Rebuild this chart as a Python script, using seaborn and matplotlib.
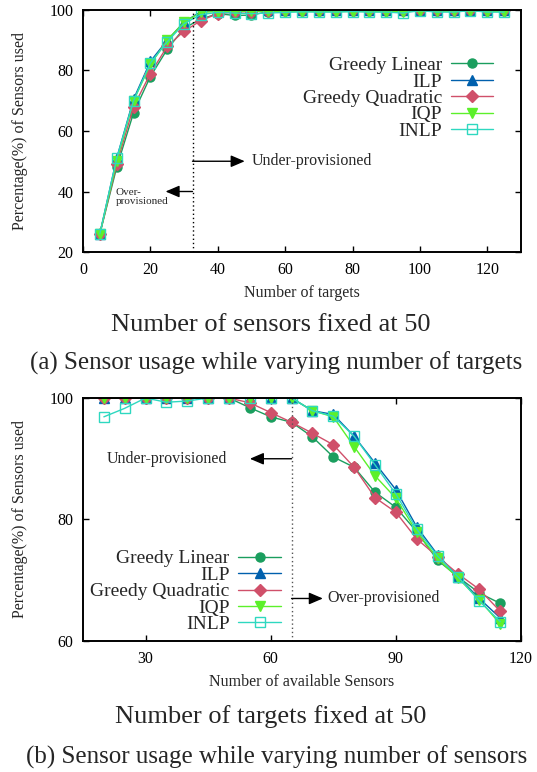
import numpy as np
import pandas as pd
import matplotlib
matplotlib.use("Agg")
import matplotlib.pyplot as plt
import seaborn as sns

sns.set_theme(style="ticks")
plt.rcParams["font.family"] = ["Liberation Serif", "DejaVu Serif"]
plt.rcParams["mathtext.fontset"] = "stix"

# ---- (a) number of sensors fixed at 50, varying number of targets ----
targets = [5, 10, 15, 20, 25, 30, 35, 40, 45, 50, 55, 60, 65, 70, 75,
           80, 85, 90, 95, 100, 105, 110, 115, 120, 125]
a_greedy_linear = [26, 48, 66, 78, 87, 94, 97, 98.8, 98.2, 98.3, 99.5, 99.6, 99.6, 99.7, 99.7,
                   99.7, 99.7, 99.7, 99.8, 99.8, 99.8, 99.8, 99.8, 99.8, 99.8]
a_ilp = [26, 51, 70.5, 83, 90, 96, 99.5, 99.8, 100, 100, 100, 100, 100, 100, 100,
         100, 100, 100, 100, 100, 100, 100, 100, 100, 100]
a_greedy_quad = [26, 49, 68, 79, 88, 93, 96.5, 98.8, 99.3, 99.5, 99.7, 100, 100, 100, 100,
                 100, 100, 100, 100, 100, 100, 100, 100, 100, 100]
a_iqp = [26, 50, 70, 82, 90, 96, 99.2, 99.5, 99.6, 99.6, 99.6, 99.5, 99.5, 99.5, 99.5,
         99.5, 99.5, 99.5, 99.5, 99.8, 99.6, 99.6, 99.8, 99.5, 99.5]
a_inlp = [26, 51, 70, 82.5, 89.5, 95.5, 98.5, 99.2, 99.0, 98.8, 99.0, 99.2, 99.4, 99.3, 99.3,
          99.5, 99.3, 99.3, 99.0, 99.8, 99.3, 99.3, 99.8, 99.3, 99.3]

# ---- (b) number of targets fixed at 50, varying number of sensors ----
sensors = [20, 25, 30, 35, 40, 45, 50, 55, 60, 65, 70, 75, 80, 85, 90, 95, 100, 105, 110, 115]
b_greedy_linear = [100, 100, 100, 100, 100, 100, 100, 98.4, 96.9, 96.0, 93.6, 90.3, 88.6,
                   84.5, 82.0, 78.0, 73.3, 70.5, 67.9, 66.2]
b_ilp = [100, 100, 100, 100, 100, 100, 100, 100, 100, 100, 97.9, 97.3, 93.7,
         89.3, 84.9, 78.8, 74.2, 70.5, 67.0, 63.8]
b_greedy_quad = [100, 100, 100, 100, 100, 100, 100, 99.2, 97.6, 96.0, 94.2, 92.3, 88.6,
                 83.6, 81.2, 76.8, 73.9, 71.0, 68.5, 64.9]
b_iqp = [100, 100, 100, 100, 100, 100, 100, 100, 100, 100, 97.9, 96.9, 92.0,
         87.2, 83.5, 78.0, 73.6, 70.3, 66.8, 62.8]
b_inlp = [96.9, 98.3, 100, 99.3, 99.5, 100, 100, 100, 100, 100, 97.9, 97.0, 93.7,
          89.0, 84.2, 78.4, 74.0, 70.5, 66.6, 63.2]

labels = ["Greedy Linear", "ILP", "Greedy Quadratic", "IQP", "INLP"]
colors = ["#1a9e5e", "#0060ad", "#d0506a", "#5cf02a", "#2ed8c0"]
markers = ["o", "^", "D", "v", "s"]
msizes = [6.5, 6.5, 6, 7, 7]

fig = plt.figure(figsize=(5.37, 7.72), dpi=100)
ax1 = fig.add_axes([83 / 537, 1 - 252 / 772, 438 / 537, 242 / 772])
ax2 = fig.add_axes([83 / 537, 1 - 641 / 772, 438 / 537, 243 / 772])


def draw_series(ax, xs, series_list):
    for ys, lab, col, mk, ms in zip(series_list, labels, colors, markers, msizes):
        df = pd.DataFrame({"x": xs, "y": ys})
        kw = dict(marker=mk, markersize=ms, color=col, linewidth=1.0,
                  markeredgecolor=col, markeredgewidth=1.0)
        if mk == "s":
            kw["markerfacecolor"] = "none"
        sns.lineplot(data=df, x="x", y="y", ax=ax, label=lab, **kw)


draw_series(ax1, targets, [a_greedy_linear, a_ilp, a_greedy_quad, a_iqp, a_inlp])
draw_series(ax2, sensors, [b_greedy_linear, b_ilp, b_greedy_quad, b_iqp, b_inlp])

tick_fs = 11.5
for ax in (ax1, ax2):
    for sp in ax.spines.values():
        sp.set_visible(True)
        sp.set_linewidth(1.4)
        sp.set_color("black")
    ax.tick_params(direction="in", top=True, right=True, length=4, width=1.0,
                   labelsize=tick_fs, colors="black", pad=7)
    ax.set_ylabel("Percentage(%) of Sensors used", fontsize=11.5, labelpad=15)

ax1.set_xlim(0, 130)
ax1.set_ylim(20, 100)
ax1.set_xticks([0, 20, 40, 60, 80, 100, 120])
ax1.set_yticks([20, 40, 60, 80, 100])
ax1.set_xlabel("Number of targets", fontsize=11.5, labelpad=5)

ax2.set_xlim(15, 120)
ax2.set_ylim(60, 100)
ax2.set_xticks([30, 60, 90, 120])
ax2.set_yticks([60, 80, 100])
ax2.set_xlabel("Number of available Sensors", fontsize=11.5, labelpad=5)

# provisioning boundaries
ax1.axvline(32.5, color="black", linestyle=(0, (1, 2)), linewidth=1.0)
ax2.axvline(65, color="#555555", linestyle=(0, (1, 2)), linewidth=1.0)

arrow = dict(arrowstyle="-|>,head_length=0.7,head_width=0.3", color="black",
             linewidth=1.0, shrinkA=0, shrinkB=0)
ax1.annotate("", xy=(48, 50), xytext=(32.5, 50), arrowprops=arrow)
ax1.text(50, 50, "Under-provisioned", fontsize=11.5, va="center", ha="left")
ax1.annotate("", xy=(24.5, 40), xytext=(32.5, 40), arrowprops=arrow)
ax1.text(9.6, 38.3, "Over-\nprovisioned", fontsize=8, va="center", ha="left",
         linespacing=1.0)

ax2.annotate("", xy=(55, 90), xytext=(65, 90), arrowprops=arrow)
ax2.text(49.5, 90, "Under-provisioned", fontsize=11.5, va="center", ha="right")
ax2.annotate("", xy=(72.5, 67), xytext=(65, 67), arrowprops=arrow)
ax2.text(73.5, 67, "Over-provisioned", fontsize=11.5, va="center", ha="left")

leg_kw = dict(frameon=False, markerfirst=False, fontsize=14, labelspacing=-0.06,
              handlelength=2.2, handletextpad=0.45, borderpad=0, borderaxespad=0,
              loc="upper right")
ax1.legend(bbox_to_anchor=(0.937, 0.808), **leg_kw)
ax2.legend(bbox_to_anchor=(0.452, 0.375), **leg_kw)

fig.text(0.505, 1 - 325 / 772, "Number of sensors fixed at 50", fontsize=19,
         ha="center", va="center")
fig.text(0.515, 1 - 363 / 772, "(a) Sensor usage while varying number of targets",
         fontsize=18, ha="center", va="center")
fig.text(0.505, 1 - 717 / 772, "Number of targets fixed at 50", fontsize=19,
         ha="center", va="center")
fig.text(0.515, 1 - 757 / 772, "(b) Sensor usage while varying number of sensors",
         fontsize=18, ha="center", va="center")

fig.savefig("out.png", dpi=100, facecolor="white")
